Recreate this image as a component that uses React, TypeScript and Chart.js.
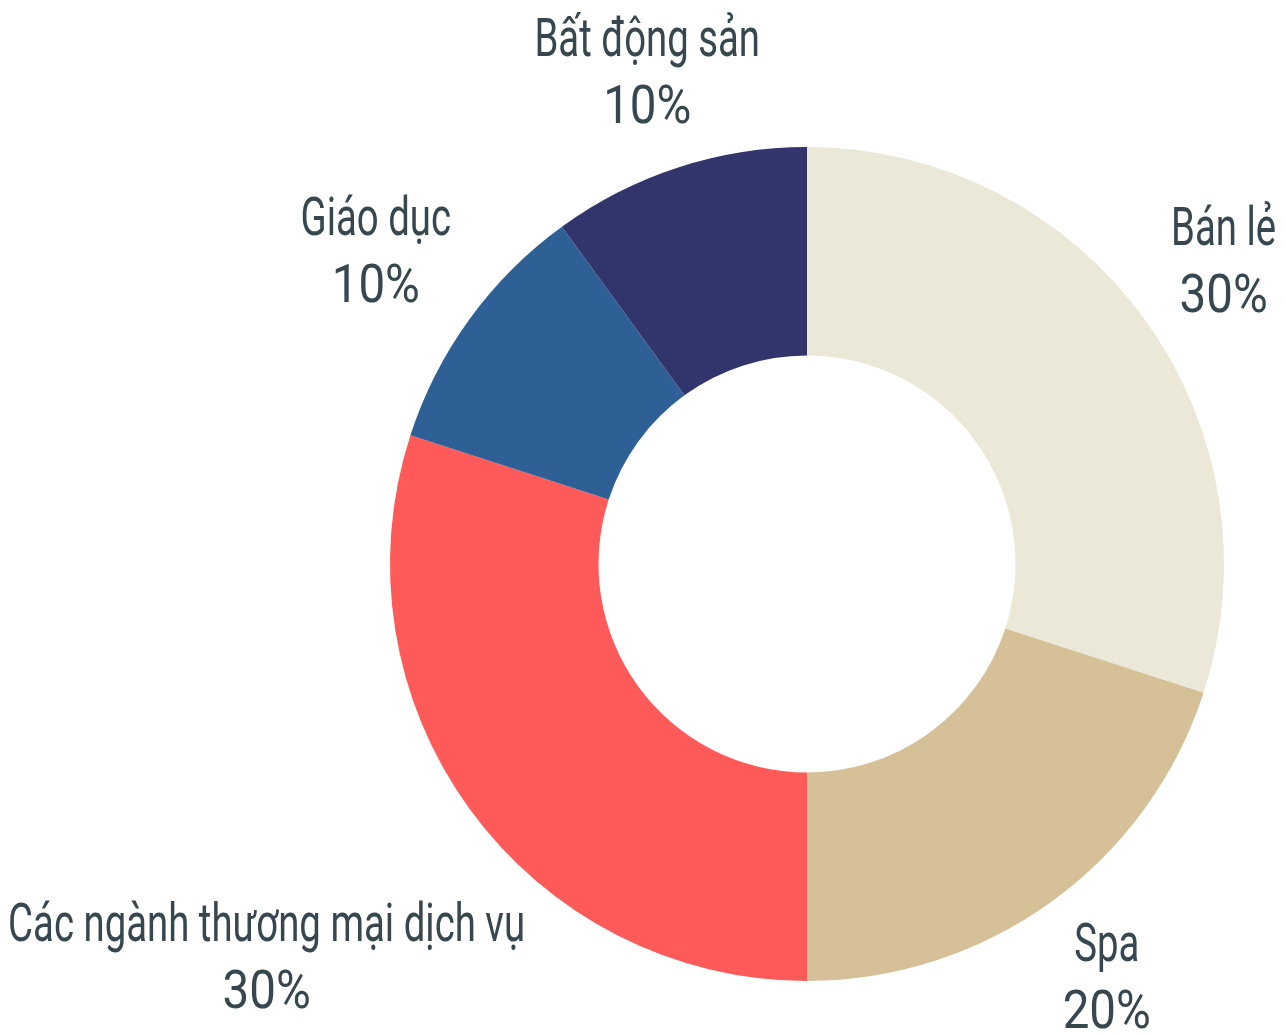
import React, { useEffect, useRef } from "react";
import { Chart, registerables } from "chart.js";

Chart.register(...registerables);

const categories = ["Bán lẻ", "Spa", "Các ngành thương mại dịch vụ", "Giáo dục", "Bất động sản"];
const shares = [30, 20, 30, 10, 10];
const valueLabels = ["30%", "20%", "30%", "10%", "10%"];
const sliceColors = ["#EBE8D8", "#D6C098", "#FF5A5A", "#2E6096", "#32356B"];

const TEXT_COLOR = "#37474F";
const FONT_SIZE = 54;
const SCALE_X = [0.71, 0.88];
const LINE_GAP = 67;
const LABEL_GAP = 24;

const outerLabels = {
  id: "outerLabels",
  afterDraw(chart: any) {
    const ctx = chart.ctx as CanvasRenderingContext2D;
    const meta = chart.getDatasetMeta(0);
    ctx.save();
    ctx.font = `400 ${FONT_SIZE}px Roboto`;
    ctx.fillStyle = TEXT_COLOR;
    ctx.textAlign = "center";
    ctx.textBaseline = "alphabetic";
    meta.data.forEach((arc: any, i: number) => {
      const p = arc.getProps(["x", "y", "startAngle", "endAngle", "outerRadius"], true);
      const mid = (p.startAngle + p.endAngle) / 2;
      const dx = Math.cos(mid);
      const dy = Math.sin(mid);
      const lines = [categories[i], valueLabels[i]];
      const w = Math.max(...lines.map((l, j) => ctx.measureText(l).width * SCALE_X[j]));
      const h = 105;
      let t = 0;
      for (t = 0; t < 2000; t += 1) {
        const cx = p.x + dx * t;
        const cy = p.y + dy * t;
        const nx = Math.max(Math.abs(cx - p.x) - w / 2, 0);
        const ny = Math.max(Math.abs(cy - p.y) - h / 2, 0);
        if (Math.hypot(nx, ny) >= p.outerRadius + LABEL_GAP) break;
      }
      const cx = p.x + dx * t;
      const cy = p.y + dy * t;
      const base1 = cy - 16;
      lines.forEach((line, j) => {
        ctx.save();
        ctx.translate(cx, base1 + j * LINE_GAP);
        ctx.scale(SCALE_X[j], 1);
        ctx.fillText(line, 0, 0);
        ctx.restore();
      });
    });
    ctx.restore();
  },
};

export default function App() {
  const ref = useRef<HTMLCanvasElement | null>(null);
  useEffect(() => {
    if (!ref.current) return;
    const chart = new Chart(ref.current, {
      type: "doughnut",
      data: {
        labels: categories,
        datasets: [
          {
            data: shares,
            backgroundColor: sliceColors,
            borderWidth: 0,
            hoverOffset: 0,
          },
        ],
      },
      options: {
        responsive: false,
        animation: false,
        cutout: "50%",
        layout: { padding: { left: 390, right: 62, top: 147, bottom: 54 } },
        plugins: {
          legend: { display: false },
          tooltip: { enabled: false },
        },
        events: [],
      },
      plugins: [outerLabels],
    });
    return () => chart.destroy();
  }, []);
  return (
    <div style={{ position: "absolute", left: 0, top: 0, width: 1286, height: 1035, background: "#fff" }}>
      <canvas ref={ref} width={1286} height={1035} style={{ width: 1286, height: 1035, display: "block" }} />
    </div>
  );
}
